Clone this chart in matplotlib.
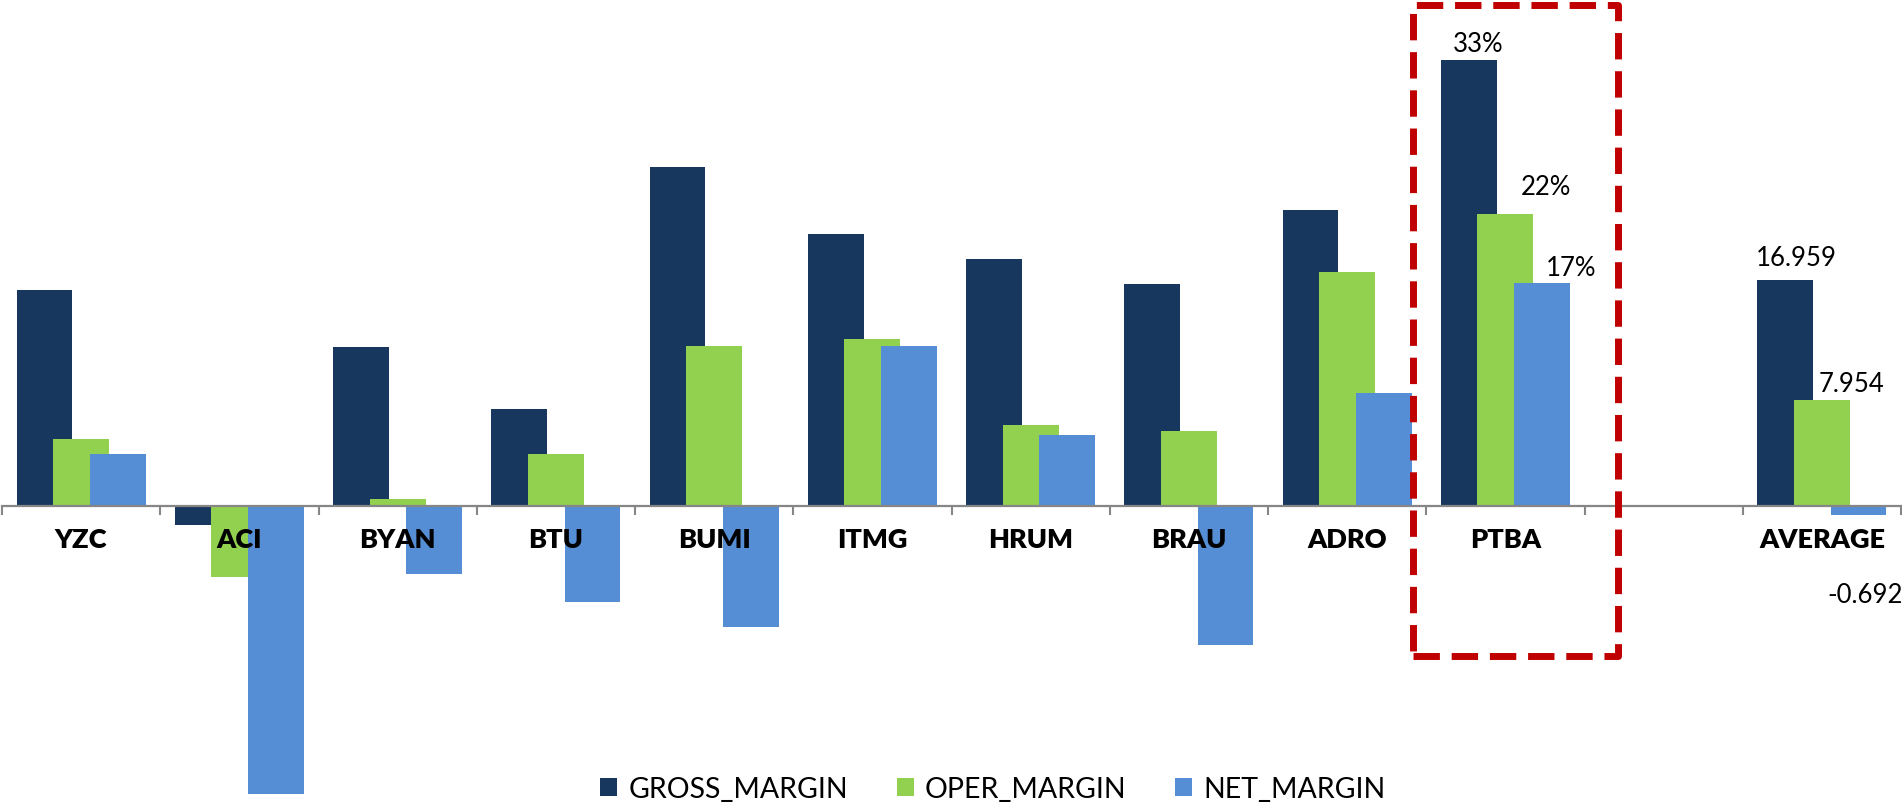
import numpy as np
import matplotlib
matplotlib.use("Agg")
import matplotlib.pyplot as plt
from matplotlib.patches import Rectangle

plt.rcParams['font.family'] = ['Lato', 'DejaVu Sans']

# data (percent)
categories = ['YZC', 'ACI', 'BYAN', 'BTU', 'BUMI', 'ITMG', 'HRUM', 'BRAU',
              'ADRO', 'PTBA', '', 'AVERAGE']
gross_margin = [16.2, -1.45, 11.9, 7.3, 25.4, 20.4, 18.5, 16.6, 22.2, 33.4,
                np.nan, 16.959]
oper_margin = [5.0, -5.3, 0.55, 3.9, 12.0, 12.5, 6.1, 5.6, 17.5, 21.9,
               np.nan, 7.954]
net_margin = [3.9, -21.6, -5.1, -7.2, -9.1, 12.0, 5.3, -10.4, 8.5, 16.7,
              np.nan, -0.692]
series_names = ['GROSS_MARGIN', 'OPER_MARGIN', 'NET_MARGIN']

# data label texts for PTBA and AVERAGE
ptba_labels = ['33%', '22%', '17%']
avg_labels = ['16.959', '7.954', '-0.692']

colors = ['#17375E', '#92D050', '#558ED5']
axis_grey = '#868686'

fig = plt.figure(figsize=(19.02, 8.12), dpi=100)
ax = fig.add_axes([2 / 1902, 11.6 / 812, 1899 / 1902, 800.4 / 812])

x = np.arange(len(categories))
width = 0.353
step = 0.2315
series = [gross_margin, oper_margin, net_margin]
bars = []
for i, (vals, col, name) in enumerate(zip(series, colors, series_names)):
    b = ax.bar(x + (i - 1) * step, vals, width, color=col, label=name,
               zorder=1 + i * 0.1, linewidth=0)
    bars.append(b)

ax.set_xlim(-0.5, len(categories) - 0.5)
ax.set_ylim(-22, 38)

for s in ['top', 'right', 'left']:
    ax.spines[s].set_visible(False)
ax.spines['bottom'].set_position(('data', 0))
ax.spines['bottom'].set_color(axis_grey)
ax.spines['bottom'].set_linewidth(1.6)
ax.spines['bottom'].set_zorder(3)
ax.set_yticks([])
ax.set_axisbelow(False)

ax.set_xticks(x)
ax.set_xticklabels(categories, fontsize=19.5, fontweight='heavy')
ax.set_xticks(np.arange(-0.5, len(categories), 1), minor=True)
ax.tick_params(axis='x', which='major', length=0, pad=15)
ax.tick_params(axis='x', which='minor', length=6.5, width=1.5,
               color=axis_grey, direction='out')
for lbl in ax.get_xticklabels():
    lbl.set_zorder(4)

# data labels for PTBA and AVERAGE
ptba = categories.index('PTBA')
avg = categories.index('AVERAGE')
ptba_offsets = [(6.5, 12), (29, 19.5), (21, 11)]
avg_offsets = [(8, 16), (21, 12), (4.5, -64)]
for k in range(3):
    for idx, texts, offs in [(ptba, ptba_labels, ptba_offsets),
                             (avg, avg_labels, avg_offsets)]:
        val = series[k][idx]
        ax.annotate(texts[k], (idx + (k - 1) * step, max(val, 0)),
                    xytext=offs[k], textcoords='offset points',
                    ha='center', va='center', fontsize=18.5, color='black',
                    zorder=5, annotation_clip=False)

# dashed highlight around PTBA
box = Rectangle((ptba - 0.584, -11.25), 1.296, 48.8, fill=False,
                edgecolor='#C00000', linewidth=5, linestyle=(0, (3.8, 1.7)),
                clip_on=False, zorder=6, joinstyle='round')
ax.add_patch(box)

fig.legend(handles=bars, labels=series_names, loc='center',
           bbox_to_anchor=(993 / 1902, 22 / 812), ncol=3, frameon=False,
           fontsize=20.5, handlelength=0.6, handleheight=0.6,
           handletextpad=0.4, columnspacing=1.7)

fig.savefig('out.png', dpi=100)
